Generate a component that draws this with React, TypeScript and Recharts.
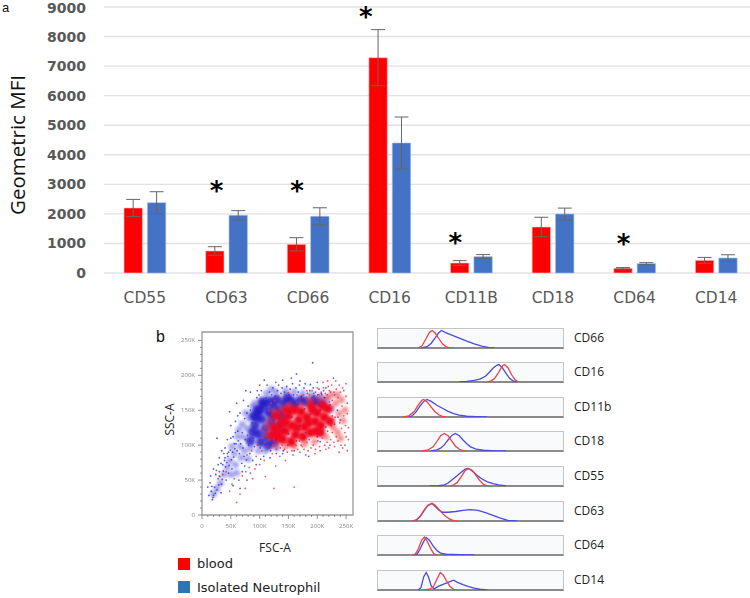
import React from "react";
import {
  BarChart, Bar, XAxis, YAxis, CartesianGrid, ErrorBar, ReferenceDot, ReferenceArea,
  ScatterChart, Scatter, LineChart, Line,
} from "recharts";

const categories = ["CD55", "CD63", "CD66", "CD16", "CD11B", "CD18", "CD64", "CD14"];
const bloodValues = [2200, 745, 970, 7285, 338, 1556, 158, 428];
const bloodErrors = [290, 145, 225, 950, 80, 330, 25, 100];
const neutroValues = [2380, 1950, 1917, 4398, 553, 1996, 316, 507];
const neutroErrors = [370, 160, 290, 880, 70, 200, 35, 110];
const yTicks = [0, 1000, 2000, 3000, 4000, 5000, 6000, 7000, 8000, 9000];

const starCategories = ["CD63", "CD66", "CD16", "CD11B", "CD64"];
const starValues = [2900, 2900, 8790, 1140, 1105];
const starShift = [-10, -11, -24, -16, -11];

const barRows = categories.map((c, i) => ({
  c,
  blood: bloodValues[i],
  bloodErr: bloodErrors[i],
  neutro: neutroValues[i],
  neutroErr: neutroErrors[i],
}));

type P = [number, number];

const blueCore: P[] = [[92,128],[98,116],[104,137],[110,124],[115,148],[120,133],[100,150],[108,158],[125,155],[130,165],[118,163],[136,150],[142,160],[148,168],[155,163],[160,156],[95,140],[88,118],[84,106],[102,104],[112,112],[128,118],[135,128],[122,142],[105,162],[97,150],[90,142],[115,100],[125,105],[140,140],[170,164],[180,162],[195,164],[205,160]];
const blueMid: P[] = [[78,124],[72,112],[66,98],[74,92],[62,112],[56,88],[48,78],[58,72],[82,138],[76,146],[88,155],[70,130],[64,122],[52,98],[44,68],[38,58],[92,160],[112,174],[128,176],[145,178],[160,176],[175,174],[190,172],[205,170],[215,165],[84,96],[98,92],[110,92],[130,96],[80,80],[68,82],[60,60],[50,58],[225,152],[120,180],[32,46],[26,38],[20,30]];
const blueFine: P[] = [[18,22],[20,28],[16,34],[22,40],[26,36],[14,46],[28,52],[34,44],[30,62],[24,58],[36,72],[40,82],[46,90],[42,50],[52,66],[46,60],[30,82],[26,110],[50,128],[48,148],[62,142],[60,160],[72,164],[58,118],[40,96],[44,108],[64,50],[70,62],[84,60],[78,50],[66,38],[54,42],[88,78],[94,72],[74,70],[102,80],[118,82],[140,88],[160,92],[185,84],[205,105],[224,128],[235,150],[230,172],[215,182],[200,190],[188,187],[170,192],[155,196],[140,193],[128,190],[108,193],[100,186],[96,178],[84,176],[76,178],[164,202],[192,218],[228,196],[240,136],[12,28],[15,56],[20,66],[33,32],[10,40],[19,25],[23,31],[17,41],[29,43],[31,55],[25,64],[37,63],[35,51],[41,69],[43,75],[47,71],[39,78],[33,74],[45,84],[51,79],[55,83],[49,93],[53,90],[57,95],[61,92],[59,102],[63,106],[67,102],[65,88],[71,96],[69,74],[73,84],[77,79],[75,108],[79,114],[81,100],[83,88],[85,122],[87,132],[89,110],[91,98],[93,150],[95,168],[99,172],[103,178],[101,96],[107,84],[111,168],[113,186],[117,176],[119,92],[121,172],[123,182],[127,170],[129,88],[131,178],[133,186],[137,174],[139,182],[141,92],[143,176],[147,184],[149,100],[151,172],[153,180],[157,188],[159,172],[163,182],[167,176],[169,186],[173,170],[177,182],[179,188],[183,174],[187,178],[191,168],[193,182],[197,176],[201,172],[203,180],[207,174],[211,178],[213,168],[217,172],[221,162],[223,176],[54,112],[58,134],[62,120],[66,146],[70,118],[74,138],[78,146],[56,102],[50,110],[44,88],[38,88],[34,92],[28,72],[80,156],[84,150],[88,142]];
const redCore: P[] = [[125,125],[132,112],[138,132],[145,120],[150,142],[156,128],[162,115],[168,136],[172,148],[178,126],[182,140],[188,118],[192,150],[196,134],[200,146],[206,128],[212,140],[218,152],[222,134],[148,150],[160,150],[175,112],[190,156],[130,142],[122,114],[140,108],[155,105],[205,118],[165,125],[185,132],[145,132],[210,156],[198,120],[135,120]];
const redMid: P[] = [[112,126],[112,114],[118,136],[124,148],[138,152],[152,158],[172,158],[186,165],[205,165],[218,168],[232,160],[238,145],[228,125],[235,118],[215,112],[195,105],[178,102],[160,98],[145,98],[128,100],[242,165],[235,172],[225,172],[245,135],[248,150],[240,110]];
const redFine: P[] = [[250,170],[252,145],[254,125],[250,112],[248,100],[252,92],[244,96],[238,90],[230,98],[222,100],[215,94],[205,92],[196,88],[180,86],[170,90],[158,86],[148,90],[135,84],[122,88],[108,78],[100,72],[92,66],[82,68],[88,52],[66,30],[60,18],[75,38],[36,58],[42,62],[30,56],[56,52],[110,55],[125,38],[160,40],[172,100],[210,190],[225,186],[238,186],[250,188],[246,178],[232,192],[218,192],[200,182],[182,178],[165,172],[150,175],[252,160],[254,108],[248,118],[242,124],[86,92],[96,100],[78,86],[128,70],[145,78],[244,182],[240,176],[236,168],[233,180],[229,176],[226,164],[221,178],[219,184],[214,174],[211,182],[207,176],[203,172],[199,168],[194,174],[191,178],[186,172],[181,168],[176,172],[171,168],[249,128],[246,142],[243,156],[241,100],[239,132],[236,106],[233,112],[231,140],[229,104],[226,118],[223,108],[220,96],[217,104],[213,100],[209,110],[204,98],[201,106],[197,94],[193,100],[189,96],[184,92],[182,104],[177,94],[174,98],[169,106],[166,94],[163,100],[159,108],[156,92],[152,100],[149,110],[146,104],[143,94],[139,100],[136,96],[133,104],[129,94],[126,108],[123,100],[119,96],[116,108],[113,98],[111,132],[109,104],[107,120],[105,110],[116,150],[120,160],[126,164],[132,170],[138,166],[144,172],[104,92],[94,84],[70,56],[76,62],[52,44],[48,34]];
const mixedFine: P[] = [[212,168],[222,158],[205,150],[196,160],[188,144],[178,152],[166,158],[152,148],[142,122],[134,138],[128,108],[150,116],[164,106],[180,118],[200,112],[215,126],[226,142],[208,172],[194,170],[172,168],[230,130],[218,120],[236,140],[156,140],[170,128],[186,108]];

const xTicksK = [0, 10, 20, 30, 40, 50, 60, 70, 80, 90, 100, 110, 120, 130, 140, 150, 160, 170, 180, 190, 200, 210, 220, 230, 240, 250];

const rows = (a: P[]) => a.map(([x, y]) => ({ x, y }));
const curve = (a: P[]) => a.map(([x, v]) => ({ x, v }));

const histNames = ["CD66", "CD16", "CD11b", "CD18", "CD55", "CD63", "CD64", "CD14"];
const histRed: P[][] = [
  [[22,0],[24,10],[26,45],[28,82],[29.5,92],[31,80],[33,50],[35,22],[37,6],[39,1],[41,0]],
  [[59,0],[61,6],[63,20],[65,50],[67,85],[68.2,92],[70,75],[72,38],[74,10],[75.5,0]],
  [[14,0],[17,6],[20,30],[22,62],[24,88],[25,92],[27,78],[29,52],[31,28],[33,12],[35,3],[37,0]],
  [[24,0],[27,4],[30,22],[32,50],[34,80],[36,92],[38,80],[40,52],[42,25],[44,9],[46,2],[48,0]],
  [[39,0],[41,6],[43,20],[45,48],[47,80],[49,92],[51,82],[53,55],[55,28],[57,8],[59,1],[60,0]],
  [[19,0],[21,6],[23,24],[25,55],[27,82],[29.4,94],[31,84],[33,62],[35,40],[37,22],[39,10],[41,2],[43,0]],
  [[19,0],[20.5,5],[22,30],[24,80],[25.4,94],[27,70],[29,28],[30.5,6],[32,0]],
  [[25,0],[28,4],[30,14],[32,55],[33.8,92],[35.5,78],[37,50],[39,20],[41,3],[43,0]],
];
const histBlue: P[][] = [
  [[24,0],[27,8],[29,25],[31,52],[33,80],[34.5,92],[37,80],[40,68],[44,52],[48,36],[52,22],[56,10],[60,2],[63,0]],
  [[44,0],[48,3],[52,8],[55,15],[58,30],[60,50],[62,72],[64,88],[65.2,92],[67,75],[69,45],[71,18],[73,4],[75,0]],
  [[17,0],[19,8],[21,28],[23,58],[25,82],[26.7,92],[29,82],[32,62],[35,46],[38,30],[41,18],[44,10],[48,4],[53,2],[59,0]],
  [[29,0],[32,6],[34,15],[36,32],[38,58],[40,82],[41.8,92],[44,80],[46,58],[48,38],[50,22],[53,10],[57,4],[63,1],[69,0]],
  [[28,0],[33,2],[36,6],[38,16],[40,32],[43,55],[45,72],[47,88],[48.5,92],[50,86],[52,70],[54,52],[56,38],[59,22],[62,12],[65,6],[69,0]],
  [[19,0],[21,5],[23,22],[25,52],[27,80],[29.4,92],[31,78],[33,58],[35,46],[38,46],[42,50],[46,56],[50,60],[54,56],[58,44],[62,30],[66,15],[70,3],[75,0]],
  [[20,0],[21.5,6],[23,30],[25,72],[26.3,92],[28,78],[30,48],[32,24],[34,10],[37,4],[44,2],[52,0]],
  [[22,0],[23.5,12],[25,70],[26.3,92],[27.5,70],[29,22],[30.5,6],[33,20],[36,32],[39,44],[41,52],[43,40],[46,28],[49,18],[52,10],[55,4],[59,0]],
];
const histTops = [328, 362, 397, 431, 466, 501, 535, 570];

const sans = "'DejaVu Sans', sans-serif";
const open = "'Open Sans', sans-serif";
const helv = "'Liberation Sans', sans-serif";

const dotShape = (r: number, fill: string, opacity: number, blur = 0) => (p: any) => (
  <circle cx={p.cx} cy={p.cy} r={r} fill={fill} opacity={opacity} style={blur ? { filter: `blur(${blur}px)` } : undefined} />
);

const FlowTickX = (p: any) => {
  const v = p.payload.value;
  const major = v % 50 === 0;
  return (
    <g>
      <line x1={p.x} x2={p.x} y1={190} y2={190 + (major ? 4 : 2)} stroke="#777" strokeWidth={0.8} />
      {major && (
        <text x={p.x} y={203} textAnchor="middle" fontSize={6} fill="#888" fontFamily={open}>
          {v === 0 ? "0" : v + "K"}
        </text>
      )}
    </g>
  );
};

const FlowTickY = (p: any) => {
  const v = p.payload.value;
  const major = v % 50 === 0;
  return (
    <g>
      <line x1={47} x2={47 - (major ? 4 : 2)} y1={p.y} y2={p.y} stroke="#777" strokeWidth={0.8} />
      {major && (
        <text x={40} y={p.y + 2} textAnchor="end" fontSize={6} fill="#888" fontFamily={open}>
          {v === 0 ? "0" : v + "K"}
        </text>
      )}
    </g>
  );
};

const abs = (left: number, top: number): React.CSSProperties => ({ position: "absolute", left, top });

export default function App() {
  return (
    <div style={{ position: "absolute", left: 0, top: 0, width: 750, height: 598, overflow: "hidden", background: "#fff" }}>
      <div style={abs(0, 0)}>
        <BarChart width={757} height={313} data={barRows} margin={{ top: 7, right: 0, bottom: 0, left: 0 }} barSize={18.4} barGap={5}>
          <CartesianGrid vertical={false} stroke="#e2e2e2" strokeWidth={1.4} />
          <XAxis dataKey="c" height={40} axisLine={false} tickLine={false} interval={0} tickMargin={13}
            tick={{ fill: "#595959", fontSize: 15.5, fontFamily: sans }} />
          <YAxis width={104} domain={[0, 9000]} ticks={yTicks} axisLine={false} tickLine={false} tickMargin={12}
            tick={{ fill: "#595959", fontSize: 14, fontWeight: 700, fontFamily: sans }} />
          <Bar dataKey="blood" fill="#ff0000" stroke="#f8c8c8" strokeWidth={0.6} isAnimationActive={false}>
            <ErrorBar dataKey="bloodErr" width={7} stroke="#666" strokeWidth={1} />
          </Bar>
          <Bar dataKey="neutro" fill="#4472c4" stroke="#a8c0e8" strokeWidth={0.6} isAnimationActive={false}>
            <ErrorBar dataKey="neutroErr" width={7} stroke="#666" strokeWidth={1} />
          </Bar>
          {starCategories.map((c, i) => (
            <ReferenceDot key={c} x={c} y={starValues[i]} ifOverflow="visible"
              shape={(p: any) => (
                <text x={p.cx + starShift[i]} y={p.cy + 13} textAnchor="middle" fontSize={26} fontWeight={700} fill="#000" fontFamily={sans}>*</text>
              )} />
          ))}
        </BarChart>
      </div>

      <div style={{ ...abs(-53, 131), width: 140, textAlign: "center", transform: "rotate(-90deg)", fontFamily: open, fontSize: 20.5, color: "#111", lineHeight: "28px", whiteSpace: "nowrap" }}>
        Geometric MFI
      </div>
      <div style={{ ...abs(2, 0), fontFamily: helv, fontSize: 13, color: "#111" }}>a</div>
      <div style={{ ...abs(156, 328), fontFamily: helv, fontSize: 16, color: "#111" }}>b</div>

      <div style={{ ...abs(155, 325), filter: "blur(0.4px)" }}>
        <ScatterChart width={205} height={205} margin={{ top: 7, right: 7, bottom: 0, left: 0 }}>
          <XAxis type="number" dataKey="x" domain={[0, 262]} ticks={xTicksK} interval={0} height={15} axisLine={false} tickLine={false} tick={FlowTickX} />
          <YAxis type="number" dataKey="y" domain={[0, 262]} ticks={xTicksK} interval={0} width={47} axisLine={false} tickLine={false} tick={FlowTickY} />
          <ReferenceArea x1={0} x2={262} y1={0} y2={262} fill="#fff" stroke="#9a9a9a" strokeWidth={1.3} ifOverflow="visible" />
          <Scatter data={rows(blueMid)} isAnimationActive={false} shape={dotShape(3.5, "#5050e0", 0.5, 1.6)} />
          <Scatter data={rows(blueCore)} isAnimationActive={false} shape={dotShape(5, "#2418c8", 0.85, 1.6)} />
          <Scatter data={rows(blueFine)} isAnimationActive={false} shape={dotShape(0.9, "#3030dc", 0.8)} />
          <Scatter data={rows(redMid)} isAnimationActive={false} shape={dotShape(3.5, "#f03840", 0.55, 1.6)} />
          <Scatter data={rows(redCore)} isAnimationActive={false} shape={dotShape(5, "#f00820", 1, 1.5)} />
          <Scatter data={rows(redFine)} isAnimationActive={false} shape={dotShape(0.9, "#f03038", 0.8)} />
          <Scatter data={rows(mixedFine)} isAnimationActive={false} shape={dotShape(0.9, "#901050", 0.7)} />
        </ScatterChart>
      </div>
      <div style={{ ...abs(245, 539), width: 60, textAlign: "center", fontFamily: open, fontSize: 12, color: "#222" }}>FSC-A</div>
      <div style={{ ...abs(139, 411), width: 60, textAlign: "center", transform: "rotate(-90deg)", fontFamily: open, fontSize: 12, color: "#222" }}>SSC-A</div>

      <div style={{ ...abs(178, 558), width: 11.5, height: 12, background: "#ff0000" }} />
      <div style={{ ...abs(178, 581), width: 11.5, height: 11.5, background: "#2e75b6" }} />
      <div style={{ ...abs(197, 556), fontFamily: sans, fontSize: 13, color: "#222" }}>blood</div>
      <div style={{ ...abs(197, 580), fontFamily: sans, fontSize: 13, color: "#222", whiteSpace: "nowrap" }}>Isolated Neutrophil</div>

      {histNames.map((name, i) => (
        <React.Fragment key={name}>
          <div style={{ ...abs(377, histTops[i]), width: 187, height: 21, boxSizing: "border-box", background: "#f8fafb", borderTop: "1px solid #c4c4c4", borderLeft: "1px solid #c4c4c4", borderRight: "1px solid #c4c4c4", borderBottom: "2px solid #8a8a8a" }} />
          <div style={{ ...abs(377, histTops[i] + 1), filter: "blur(0.35px)" }}>
            <LineChart width={187} height={19} margin={{ top: 0, right: 0, bottom: 0, left: 0 }}>
              <XAxis hide type="number" dataKey="x" domain={[0, 100]} allowDataOverflow />
              <YAxis hide domain={[0, 100]} />
              <Line data={curve(histBlue[i])} dataKey="v" stroke="#4a4ae0" strokeWidth={1.3} dot={false} isAnimationActive={false} />
              <Line data={curve(histRed[i])} dataKey="v" stroke="#ee4048" strokeWidth={1.3} dot={false} isAnimationActive={false} />
            </LineChart>
          </div>
          <div style={{ ...abs(574, histTops[i] + 1), fontFamily: open, fontSize: 12, color: "#222" }}>{name}</div>
        </React.Fragment>
      ))}
    </div>
  );
}
